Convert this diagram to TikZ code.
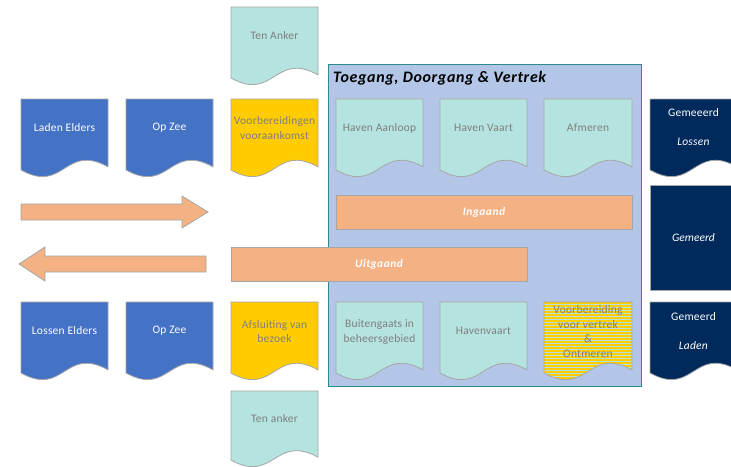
\documentclass[tikz,border=0pt]{standalone}
\usepackage{fontspec}
\setmainfont{Carlito}
\definecolor{blueA}{HTML}{4472C4}
\definecolor{goldA}{HTML}{FFCC00}
\definecolor{cyanA}{HTML}{B5E3DF}
\definecolor{zoneA}{HTML}{B4C6E7}
\definecolor{zoneB}{HTML}{2E8B8B}
\definecolor{orangeA}{HTML}{F4B183}
\definecolor{navyA}{HTML}{002A5C}
\definecolor{edgeA}{HTML}{A6A6A6}
\definecolor{txtA}{HTML}{7F7F7F}
\newcommand\docpathof[4]{(#1,#2) -- ({#1+#3},#2) -- ({#1+#3},{#2+0.87*#4}) .. controls ({#1+0.5*#3},{#2+0.56*#4}) and ({#1+0.5*#3},{#2+1.22*#4}) .. (#1,{#2+0.91*#4}) -- cycle}
\newcommand\docshape[9]{%
  \path[docframe,#6] \docpathof{#2}{#3}{#4}{#5};
  \node[#7] (#1) at ({#2+0.5*#4},#8) {#9};
}
\tikzset{
  docframe/.style={draw=edgeA, line width=0.8pt},
  lbl/.style={align=center, font=\fontsize{11.5}{14.5}\selectfont\addfontfeatures{LetterSpace=2}, inner sep=0pt},
  lblW/.style={lbl, text=white},
  lblG/.style={lbl, text=txtA},
  bar/.style={draw=edgeA, line width=0.8pt, fill=orangeA, text=white, font=\fontsize{11.5}{14}\selectfont\bfseries\itshape\addfontfeatures{LetterSpace=4}, inner sep=0pt},
  blockarrow/.style={draw=edgeA, line width=0.8pt, fill=orangeA},
  zone/.style={draw=zoneB, line width=1.2pt, fill=zoneA, inner sep=0pt},
  navybox/.style={draw=edgeA, line width=0.8pt, fill=navyA, text=white, inner sep=0pt, font=\fontsize{11.5}{14.5}\selectfont\itshape},
}
\begin{document}
\begin{tikzpicture}[x=1pt,y=-1pt]
\clip (0,0) rectangle (731,466);
\fill[white] (0,0) rectangle (731,466);
% zone
\node[zone, minimum width=313pt, minimum height=322pt, anchor=north west] (zonebox) at (328,64) {};
\node[anchor=west, inner sep=0pt, font=\fontsize{16}{19}\selectfont\bfseries\itshape\addfontfeatures{LetterSpace=4}] (zonetitle) at (333,78) {Toegang, Doorgang \& Vertrek};
% top row
\docshape{tenankerA}{231}{7}{87}{78}{fill=cyanA}{lblG}{36}{Ten Anker}
\docshape{ladenelders}{21}{99}{87}{78}{fill=blueA}{lblW}{128}{Laden Elders}
\docshape{opzeeA}{126}{99}{87}{78}{fill=blueA}{lblW}{128}{Op Zee}
\docshape{voorbA}{231}{99}{87}{78}{fill=goldA}{lblG}{128}{Voorbereidingen\\vooraankomst}
\docshape{havenaanloop}{336}{99}{87}{78}{fill=cyanA}{lblG}{128}{Haven Aanloop}
\docshape{havenvaartA}{440}{99}{87}{78}{fill=cyanA}{lblG}{128}{Haven Vaart}
\docshape{afmeren}{544}{99}{88}{78}{fill=cyanA}{lblG}{128}{Afmeren}
\docshape{gemlossen}{650}{99}{87}{78}{fill=navyA}{lblW}{127.5}{Gemeeerd\\[14.5pt]\textit{Lossen}}
% middle
\node[navybox, minimum width=87pt, minimum height=105pt] (gemeerd) at (693.5,237.5) {Gemeerd};
\node[bar, minimum width=296pt, minimum height=34pt] (ingaand) at (484,212) {Ingaand};
\node[bar, minimum width=296pt, minimum height=34pt] (uitgaand) at (379,264.5) {Uitgaand};
\draw[blockarrow] (21,204) -- (182,204) -- (182,196) -- (208,212) -- (182,228) -- (182,220) -- (21,220) -- cycle;
\draw[blockarrow] (19,264) -- (45,247) -- (45,256) -- (206,256) -- (206,272) -- (45,272) -- (45,281) -- cycle;
% bottom row
\docshape{losselders}{21}{302}{87}{78}{fill=blueA}{lblW}{331}{Lossen Elders}
\docshape{opzeeB}{126}{302}{87}{78}{fill=blueA}{lblW}{331}{Op Zee}
\docshape{afsluiting}{231}{302}{87}{78}{fill=goldA}{lblG}{331.5}{Afsluiting van\\bezoek}
\docshape{buitengaats}{336}{302}{87}{78}{fill=cyanA}{lblG}{332}{Buitengaats in\\beheersgebied}
\docshape{havenvaartB}{440}{302}{87}{78}{fill=cyanA}{lblG}{331}{Havenvaart}
\fill[cyanA] \docpathof{544}{302}{88}{78};
\begin{scope}
  \clip \docpathof{544}{302}{88}{78};
  \foreach \i in {0,...,27} {\fill[goldA] (544,{302+3*\i}) rectangle (632,{303.6+3*\i});}
\end{scope}
\path[docframe] \docpathof{544}{302}{88}{78};
\node[lblG] (voorbvertrek) at (588,331.5) {Voorbereiding\\voor vertrek\\\&\\Ontmeren};
\docshape{gemladen}{650}{302}{87}{78}{fill=navyA}{lblW}{331}{Gemeerd\\[14.5pt]\textit{Laden}}
\docshape{tenankerB}{231}{391}{87}{76}{fill=cyanA}{lblG}{419}{Ten anker}
\end{tikzpicture}
\end{document}
